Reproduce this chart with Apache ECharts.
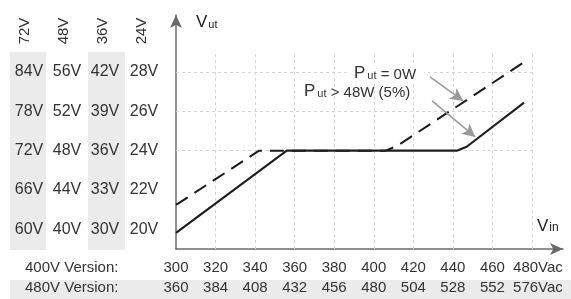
<!DOCTYPE html>
<html>
<head>
<meta charset="utf-8">
<script src="https://cdn.jsdelivr.net/npm/echarts@6.0.0/dist/echarts.min.js"></script>
<style>
  html, body { margin: 0; padding: 0; background: #fff; }
  #chart { width: 571px; height: 299px; }
</style>
</head>
<body>
<div id="chart"></div>
<script>
// input voltage ticks (two product versions)
const vin400 = [300, 320, 340, 360, 380, 400, 420, 440, 460, 480]
const vin480 = [360, 384, 408, 432, 456, 480, 504, 528, 552, 576]
// output voltage rows for each model
const out72 = [60, 66, 72, 78, 84]
const out48 = [40, 44, 48, 52, 56]
const out36 = [30, 33, 36, 39, 42]
const out24 = [20, 22, 24, 26, 28]
const models = ['72V', '48V', '36V', '24V']

// curves, in 400V-version input volts vs 24V-model output volts
const fullLoad = [[300, 19.82], [356, 24], [442, 24], [447, 24.2], [476, 26.45]]
const noLoad = [[300, 21.24], [342, 24], [406, 24], [412, 24.25], [476, 28.5]]
// annotation arrows
const arrowNoLoad = [[428.5, 27.75], [445.2, 26.53]]
const arrowFullLoad = [[429.5, 26.53], [451.3, 24.7]]

const font = "'Liberation Sans', Arial, sans-serif"
const txt = '#333'

const chart = echarts.init(document.getElementById('chart'), null, { renderer: 'canvas' })

const tableAxis = (vals, scale, margin) => ({
  type: 'value',
  position: 'left',
  min: 19 * scale,
  max: 30.9 * scale,
  axisLine: { show: false },
  axisTick: { show: false },
  splitLine: { show: false },
  axisLabel: {
    customValues: vals,
    formatter: v => v + 'V',
    margin: margin,
    align: 'center',
    fontSize: 16,
    color: txt,
    fontFamily: font
  }
})

const option = {
  animation: false,
  grid: { left: 176, right: 8, top: 15, bottom: 50, containLabel: false, outerBoundsMode: 'none' },
  xAxis: [
    {
      type: 'value',
      min: 300,
      max: 495.7,
      position: 'bottom',
      axisLine: { show: true, symbol: ['none', 'arrow'], symbolSize: [9, 13], lineStyle: { color: '#6a6a6a', width: 1.5 } },
      axisTick: { show: false },
      splitLine: { show: false },
      axisLabel: {
        customValues: vin400,
        formatter: v => v === 480 ? '{last|480Vac}' : String(v),
        margin: 11,
        fontSize: 15,
        color: txt,
        fontFamily: font,
        rich: { last: { fontSize: 15, color: txt, fontFamily: font, padding: [0, 0, 0, 12] } }
      }
    },
    {
      type: 'value',
      min: 360,
      max: 360 + 195.7 * 1.2,
      position: 'bottom',
      offset: 20,
      axisLine: { show: false },
      axisTick: { show: false },
      splitLine: { show: false },
      axisLabel: {
        customValues: vin480,
        formatter: v => v === 576 ? '{last|576Vac}' : String(v),
        margin: 11,
        fontSize: 15,
        color: txt,
        fontFamily: font,
        rich: { last: { fontSize: 15, color: txt, fontFamily: font, padding: [0, 0, 0, 12] } }
      }
    }
  ],
  yAxis: [
    {
      type: 'value',
      position: 'left',
      min: 19,
      max: 30.9,
      axisLine: { show: true, symbol: ['none', 'arrow'], symbolSize: [9, 13], lineStyle: { color: '#6a6a6a', width: 1.5 } },
      axisTick: { show: false },
      splitLine: { show: false },
      axisLabel: {
        customValues: out24,
        formatter: v => v + 'V',
        margin: 32,
        align: 'center',
        fontSize: 16,
        color: txt,
        fontFamily: font
      }
    },
    tableAxis(out36, 1.5, 71),
    tableAxis(out48, 2, 109),
    tableAxis(out72, 3, 147)
  ],
  graphic: [
    { type: 'rect', z: -10, shape: { x: 10, y: 52, width: 36, height: 198 }, style: { fill: '#ebebeb' } },
    { type: 'rect', z: -10, shape: { x: 88, y: 52, width: 37, height: 198 }, style: { fill: '#ebebeb' } },
    { type: 'rect', z: -10, shape: { x: 10, y: 280, width: 561, height: 19 }, style: { fill: '#ebebeb' } },
    ...models.map((m, i) => ({
      type: 'text',
      x: [25, 64, 103, 142][i],
      y: 31,
      rotation: Math.PI / 2,
      style: { text: m, fill: txt, font: '15px ' + font, align: 'center', verticalAlign: 'middle' }
    })),
    { type: 'text', x: 25, y: 268, style: { text: '400V Version:', fill: txt, font: '15px ' + font, verticalAlign: 'middle' } },
    { type: 'text', x: 25, y: 288, style: { text: '480V Version:', fill: txt, font: '15px ' + font, verticalAlign: 'middle' } },
    {
      type: 'text', x: 196, y: 31,
      style: {
        text: '{v|V}{s|ut}', verticalAlign: 'bottom',
        rich: {
          v: { fontSize: 17, fontFamily: font, fill: '#222', verticalAlign: 'bottom' },
          s: { fontSize: 11, fontFamily: font, fill: '#222', verticalAlign: 'bottom', padding: [0, 0, 1, 1] }
        }
      }
    },
    {
      type: 'text', x: 537, y: 235,
      style: {
        text: '{v|V}{s|in}', verticalAlign: 'bottom',
        rich: {
          v: { fontSize: 17, fontFamily: font, fill: '#222', verticalAlign: 'bottom' },
          s: { fontSize: 12, fontFamily: font, fill: '#222', verticalAlign: 'bottom', padding: [0, 0, 1, 1] }
        }
      }
    },
    {
      type: 'text', x: 350, y: 82, z: 10,
      style: {
        text: '{p|P}{s|ut}{n| = 0W}', verticalAlign: 'bottom',
        backgroundColor: '#fff', padding: [1, 8, 0, 4],
        rich: {
          p: { fontSize: 17, fontFamily: font, fill: txt, verticalAlign: 'bottom' },
          s: { fontSize: 11, fontFamily: font, fill: txt, verticalAlign: 'bottom', padding: [0, 0, 1, 2] },
          n: { fontSize: 15, fontFamily: font, fill: txt, verticalAlign: 'bottom' }
        }
      }
    },
    {
      type: 'text', x: 304, y: 100, z: 10,
      style: {
        text: '{p|P}{s|ut}{n| > 48W (5%)}', verticalAlign: 'bottom',
        rich: {
          p: { fontSize: 17, fontFamily: font, fill: txt, verticalAlign: 'bottom' },
          s: { fontSize: 11, fontFamily: font, fill: txt, verticalAlign: 'bottom', padding: [0, 0, 1, 2] },
          n: { fontSize: 15, fontFamily: font, fill: txt, verticalAlign: 'bottom' }
        }
      }
    }
  ],
  series: [
    {
      // grid lines
      type: 'line',
      data: [],
      silent: true,
      z: 1,
      markLine: {
        silent: true,
        z: 1,
        symbol: 'none',
        label: { show: false },
        lineStyle: { color: '#d6d6d6', type: [3, 3], width: 1 },
        data: [
          ...[24, 26, 28].map(v => [{ coord: [300, v] }, { coord: [480, v] }]),
          ...vin400.slice(1).map(v => [{ coord: [v, 19] }, { coord: [v, 29.1] }])
        ]
      }
    },
    {
      // annotation arrows
      type: 'line',
      data: [],
      silent: true,
      z: 5,
      markLine: {
        silent: true,
        z: 5,
        symbol: ['none', 'arrow'],
        symbolSize: [10, 13],
        label: { show: false },
        lineStyle: { color: '#999', type: 'solid', width: 1.5 },
        data: [
          [{ coord: arrowNoLoad[0] }, { coord: arrowNoLoad[1] }],
          [{ coord: arrowFullLoad[0] }, { coord: arrowFullLoad[1] }]
        ]
      }
    },
    {
      name: 'Pout = 0W',
      type: 'line',
      data: noLoad,
      showSymbol: false,
      z: 3,
      lineStyle: { color: '#1a1a1a', width: 2, type: [14, 8] }
    },
    {
      name: 'Pout > 48W',
      type: 'line',
      data: fullLoad,
      showSymbol: false,
      z: 4,
      lineStyle: { color: '#1f1f1f', width: 2.2 }
    }
  ]
}

chart.setOption(option)
</script>
</body>
</html>
